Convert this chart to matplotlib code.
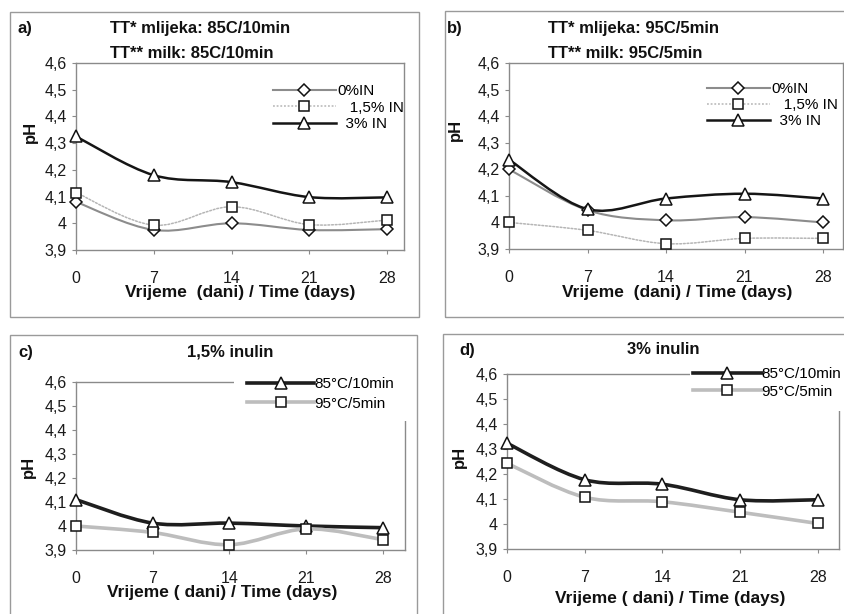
import matplotlib
matplotlib.use("Agg")
import matplotlib.pyplot as plt
from matplotlib.path import Path
from matplotlib.patches import PathPatch, Rectangle
from matplotlib.lines import Line2D
from matplotlib.ticker import FixedLocator, FixedFormatter

plt.rcParams['font.family'] = ['Liberation Sans', 'DejaVu Sans']

# ---------------- data ----------------
days = [0, 7, 14, 21, 28]
day_labels = ['0', '7', '14', '21', '28']
ph_ticks = [3.9, 4.0, 4.1, 4.2, 4.3, 4.4, 4.5, 4.6]
ph_tick_labels = ['3,9', '4', '4,1', '4,2', '4,3', '4,4', '4,5', '4,6']

a_in0 = [4.08, 3.975, 4.00, 3.975, 3.978]
a_in15 = [4.115, 3.993, 4.062, 3.995, 4.012]
a_in3 = [4.325, 4.18, 4.154, 4.098, 4.097]

b_in0 = [4.20, 4.046, 4.008, 4.02, 4.00]
b_in15 = [4.00, 3.97, 3.92, 3.94, 3.94]
b_in3 = [4.236, 4.05, 4.09, 4.108, 4.09]

c_85 = [4.11, 4.012, 4.012, 4.00, 3.993]
c_95 = [4.00, 3.973, 3.922, 3.988, 3.943]

d_85 = [4.323, 4.177, 4.159, 4.097, 4.097]
d_95 = [4.243, 4.107, 4.089, 4.047, 4.002]

legend_ab = ['0%IN', '   1,5% IN', '  3% IN']
legend_cd = ['85°C/10min', '95°C/5min']

W, H = 845, 614
fig = plt.figure(figsize=(W / 100, H / 100), dpi=100)

FS_TICK = 11.5
FS_LEG = 11
FS_TITLE = 12
FS_XLAB = 12.5


def fx(px):
    return px / W


def fy(py):
    return 1 - py / H


def smooth_path(x, y):
    # Excel-like smoothed line: cubic Bezier segments through the data points
    n = len(x)
    verts = [(x[0], y[0])]
    codes = [Path.MOVETO]
    for i in range(n - 1):
        x0, y0 = (x[i - 1], y[i - 1]) if i > 0 else (x[i], y[i])
        x3, y3 = (x[i + 2], y[i + 2]) if i + 2 < n else (x[i + 1], y[i + 1])
        c1 = (x[i] + (x[i + 1] - x0) / 6, y[i] + (y[i + 1] - y0) / 6)
        c2 = (x[i + 1] - (x3 - x[i]) / 6, y[i + 1] - (y3 - y[i]) / 6)
        verts += [c1, c2, (x[i + 1], y[i + 1])]
        codes += [Path.CURVE4] * 3
    return Path(verts, codes)


SPINE = '#8a8a8a'


def make_axes(x0, xr, x28, ytop, ybot):
    ax = fig.add_axes([fx(x0), fy(ybot), (xr - x0) / W, (ybot - ytop) / H])
    ax.set_xlim(0, 28 * (xr - x0) / (x28 - x0))
    ax.set_ylim(3.9, 4.6)
    ax.xaxis.set_major_locator(FixedLocator(days))
    ax.xaxis.set_major_formatter(FixedFormatter(day_labels))
    ax.yaxis.set_major_locator(FixedLocator(ph_ticks))
    ax.yaxis.set_major_formatter(FixedFormatter(ph_tick_labels))
    ax.tick_params(axis='both', direction='out', length=3, width=0.8,
                   color=SPINE, labelsize=FS_TICK, labelcolor='#1a1a1a')
    ax.tick_params(axis='x', pad=12)
    ax.tick_params(axis='y', pad=3.5)
    for s in ax.spines.values():
        s.set_color(SPINE)
        s.set_linewidth(1.0)
    ax.patch.set_alpha(0)
    return ax


def series(ax, y, color, lw, ls, marker, ms):
    p = PathPatch(smooth_path(days, y), fill=False, edgecolor=color, lw=lw,
                  linestyle=ls, zorder=3, clip_on=False, capstyle='round',
                  joinstyle='round')
    ax.add_patch(p)
    ax.plot(days, y, linestyle='none', marker=marker, ms=ms, mfc='white',
            mec='#111111', mew=1.1, zorder=4, clip_on=False)
    return Line2D([], [], color=color, lw=lw, ls=ls, marker=marker, ms=ms,
                  mfc='white', mec='#111111', mew=1.1)


def outer_box(x0, y0, x1, y1):
    fig.patches.append(Rectangle((fx(x0), fy(y1)), (x1 - x0) / W, (y1 - y0) / H,
                                 transform=fig.transFigure, fill=False,
                                 edgecolor='#9a9a9a', lw=1.0, zorder=0))


def cover(ax, x0, y0, x1, y1):
    r = Rectangle((fx(x0), fy(y1)), (x1 - x0) / W, (y1 - y0) / H,
                  transform=fig.transFigure, facecolor='white',
                  edgecolor='none', zorder=2.8, clip_on=False)
    ax.add_artist(r)


def label(x, y, s, size=FS_TITLE, **kw):
    fig.text(fx(x), fy(y), s, fontsize=size, fontweight='bold', color=TXT,
             va='center', **kw)


TXT = '#111111'

# outer chart boxes
outer_box(10, 12, 419, 317)
outer_box(445, 11, 860, 317)
outer_box(10, 335, 417, 640)
outer_box(443, 334, 860, 640)

# ---------------- panel a ----------------
axa = make_axes(76, 404, 387, 63, 250)
h = [series(axa, a_in0, '#8c8c8c', 1.5, '-', 'D', 6.5),
     series(axa, a_in15, '#b5b5b5', 1.1, (0, (1.2, 1.2)), 's', 7),
     series(axa, a_in3, '#151515', 1.8, '-', '^', 8)]
axa.legend(h, legend_ab, loc='upper left', bbox_to_anchor=(fx(273), fy(84)),
           bbox_transform=fig.transFigure, frameon=False, fontsize=FS_LEG,
           handlelength=4.1, handletextpad=0.1, labelspacing=0.18,
           borderpad=0, borderaxespad=0)
label(18, 28, 'a)')
label(110, 28, 'TT* mlijeka: 85C/10min')
label(110, 53, 'TT** milk: 85C/10min')
label(30, 132, 'pH', ha='center', rotation=90)
label(240, 292, 'Vrijeme  (dani) / Time (days)', size=FS_XLAB, ha='center')

# ---------------- panel b ----------------
axb = make_axes(509, 843, 823, 63, 249)
h = [series(axb, b_in0, '#8c8c8c', 1.5, '-', 'D', 6.5),
     series(axb, b_in15, '#b5b5b5', 1.1, (0, (1.2, 1.2)), 's', 7),
     series(axb, b_in3, '#151515', 1.8, '-', '^', 8)]
axb.legend(h, legend_ab, loc='upper left', bbox_to_anchor=(fx(707), fy(82)),
           bbox_transform=fig.transFigure, frameon=False, fontsize=FS_LEG,
           handlelength=4.1, handletextpad=0.1, labelspacing=0.14,
           borderpad=0, borderaxespad=0)
label(447, 28, 'b)')
label(548, 28, 'TT* mlijeka: 95C/5min')
label(548, 53, 'TT** milk: 95C/5min')
label(455, 130, 'pH', ha='center', rotation=90)
label(677, 292, 'Vrijeme  (dani) / Time (days)', size=FS_XLAB, ha='center')

# ---------------- panel c ----------------
axc = make_axes(76, 405, 383, 382, 550)
h = [series(axc, c_85, '#1e1e1e', 2.6, '-', '^', 8),
     series(axc, c_95, '#bdbdbd', 2.6, '-', 's', 7)]
cover(axc, 234, 372, 412, 421)
leg = axc.legend(h, legend_cd, loc='upper left', bbox_to_anchor=(fx(247), fy(377)),
                 bbox_transform=fig.transFigure, frameon=False, fontsize=FS_LEG,
                 handlelength=4.4, handletextpad=0.0, labelspacing=0.38,
                 borderpad=0, borderaxespad=0)
leg.set_zorder(6)
label(18, 352, 'c)')
label(230, 352, '1,5% inulin', ha='center')
label(28, 467, 'pH', ha='center', rotation=90)
label(222, 593, 'Vrijeme ( dani) / Time (days)', size=FS_XLAB, ha='center')

# ---------------- panel d ----------------
axd = make_axes(507, 839, 818, 374, 549)
h = [series(axd, d_85, '#1e1e1e', 2.6, '-', '^', 8),
     series(axd, d_95, '#bdbdbd', 2.6, '-', 's', 7)]
cover(axd, 690, 365, 850, 411)
leg = axd.legend(h, legend_cd, loc='upper left', bbox_to_anchor=(fx(693), fy(367)),
                 bbox_transform=fig.transFigure, frameon=False, fontsize=FS_LEG,
                 handlelength=4.5, handletextpad=0.0, labelspacing=0.25,
                 borderpad=0, borderaxespad=0)
leg.set_zorder(6)
label(459, 350, 'd)')
label(663, 350, '3% inulin', ha='center')
label(459, 457, 'pH', ha='center', rotation=90)
label(670, 598, 'Vrijeme ( dani) / Time (days)', size=FS_XLAB, ha='center')

fig.savefig('out.png', dpi=100)
